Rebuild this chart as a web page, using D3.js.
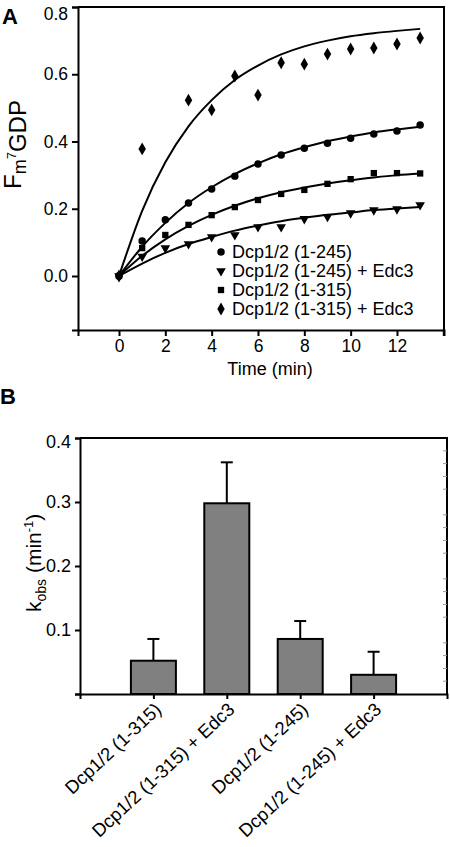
<!DOCTYPE html>
<html><head><meta charset="utf-8">
<script src="https://cdn.jsdelivr.net/npm/d3@7"></script>
<style>body{margin:0;background:#fff} text{font-family:"Liberation Sans",Arial,sans-serif;fill:#000}</style>
</head><body><svg id="c" width="450" height="847"></svg>
<script>
// ---- Panel A data ----
const times = [0,1,2,3,4,5,6,7,8,9,10,11,12,13];
const dcp245 = [0, 0.104, 0.167, 0.217, 0.259, 0.297, 0.333, 0.360, 0.380, 0.395, 0.410, 0.422, 0.431, 0.449];
const dcp245Edc3 = [0, 0.058, 0.083, 0.095, 0.116, 0.122, 0.146, 0.146, 0.170, 0.176, 0.187, 0.196, 0.199, 0.211];
const dcp315 = [0, 0.083, 0.122, 0.152, 0.181, 0.205, 0.226, 0.244, 0.256, 0.274, 0.288, 0.306, 0.306, 0.305];
const dcp315Edc3 = [0, 0.378, null, 0.523, 0.494, 0.595, 0.538, 0.634, 0.630, 0.660, 0.675, 0.678, 0.690, 0.708];
// fitted curves
const fit245 = [0, 0.087, 0.158, 0.217, 0.264, 0.303, 0.335, 0.362, 0.383, 0.401, 0.415, 0.427, 0.436, 0.444];
const fit245Edc3 = [0, 0.037, 0.069, 0.095, 0.116, 0.135, 0.150, 0.163, 0.173, 0.182, 0.189, 0.196, 0.201, 0.205];
const fit315 = [0, 0.060, 0.109, 0.149, 0.182, 0.209, 0.231, 0.249, 0.263, 0.275, 0.285, 0.293, 0.300, 0.305];
const fit315Edc3 = [0, 0.194, 0.338, 0.445, 0.523, 0.583, 0.626, 0.659, 0.683, 0.700, 0.713, 0.722, 0.729, 0.735];
const legendLabels = ["Dcp1/2 (1-245)", "Dcp1/2 (1-245) + Edc3", "Dcp1/2 (1-315)", "Dcp1/2 (1-315) + Edc3"];
const xTicksA = [0,2,4,6,8,10,12,14];
const yTicksA = [0,0.2,0.4,0.6,0.8];

// ---- Panel B data ----
const categories = ["Dcp1/2 (1-315)", "Dcp1/2 (1-315) + Edc3", "Dcp1/2 (1-245)", "Dcp1/2 (1-245) + Edc3"];
const kobs = [0.052, 0.298, 0.086, 0.030];
const kerr = [0.034, 0.064, 0.028, 0.036];
const yTicksB = [0.1,0.2,0.3,0.4];
const minorTicksB = [0.02,0.04,0.06,0.08,0.12,0.14,0.16,0.18,0.22,0.24,0.26,0.28,0.32,0.34,0.36,0.38];

const svg = d3.select("#c");

// ================= Panel A =================
const A = {l:78, r:444, t:7, b:330};
const x = d3.scaleLinear().domain([-1.77, 14.03]).range([A.l, A.r]);
const y = d3.scaleLinear().domain([-0.1606, 0.8]).range([A.b, A.t]);
const gA = svg.append("g");

gA.append("path").attr("d", `M${A.l},${A.t}H${A.r}V${A.b}`).attr("fill","none").attr("stroke","#000").attr("stroke-width",2);

const xAxA = gA.append("g").attr("transform",`translate(0,${A.b})`)
  .call(d3.axisBottom(x).tickValues(xTicksA).tickSize(6).tickPadding(4).tickFormat(d => d===14 ? "" : d));
const yAxA = gA.append("g").attr("transform",`translate(${A.l},0)`)
  .call(d3.axisLeft(y).tickValues(yTicksA).tickSize(6).tickPadding(4).tickFormat(d3.format(".1f")));
[xAxA, yAxA].forEach(g => {
  g.select(".domain").attr("stroke-width",2);
  g.selectAll(".tick line").attr("stroke-width",2);
  g.selectAll(".tick text").attr("font-size",17.5).attr("font-family","Liberation Sans, Arial, sans-serif");
});
yAxA.selectAll(".tick text").filter(d => d===0.8).attr("dy","0.72em");

const line = d3.line().x((d,i)=>x(times[i])).y(d=>y(d)).curve(d3.curveMonotoneX);
[fit245, fit245Edc3, fit315, fit315Edc3].forEach(f => {
  gA.append("path").attr("d", line(f)).attr("fill","none").attr("stroke","#000").attr("stroke-width",2);
});

const symCircle = d3.symbol().type(d3.symbolCircle).size(44)();
const symTri = d3.symbol().type(d3.symbolTriangle).size(40)();
const symSquare = d3.symbol().type(d3.symbolSquare).size(40)();
const symDiamond = d3.symbol().type(d3.symbolDiamond).size(48)();
const series = [
  {vals: dcp245, sym: symCircle, rot: 0},
  {vals: dcp245Edc3, sym: symTri, rot: 180},
  {vals: dcp315, sym: symSquare, rot: 0},
  {vals: dcp315Edc3, sym: symDiamond, rot: 0}
];
series.forEach(s => {
  gA.append("g").selectAll("path").data(s.vals.map((v,i)=>({t:times[i], v})).filter(d=>d.v!==null))
    .join("path").attr("d", s.sym)
    .attr("transform", d=>`translate(${x(d.t)},${y(d.v)}) rotate(${s.rot})`)
    .attr("fill","#000");
});

// legend
const legY = [252, 271, 290, 309];
legendLabels.forEach((lab,i) => {
  gA.append("path").attr("d", series[i].sym).attr("fill","#000")
    .attr("transform", `translate(221,${legY[i]}) rotate(${series[i].rot})`);
  gA.append("text").attr("x",232).attr("y",legY[i]+6).attr("font-size",18).text(lab);
});

// axis titles
gA.append("text").attr("x",270).attr("y",375).attr("text-anchor","middle").attr("font-size",18).text("Time (min)");
const yl = gA.append("text").attr("transform","translate(21,189) rotate(-90)").attr("font-size",24);
yl.append("tspan").text("F");
yl.append("tspan").attr("font-size",18).attr("dy",5).text("m");
yl.append("tspan").attr("font-size",13).attr("dy",-10).text("7");
yl.append("tspan").attr("font-size",24).attr("dy",10).text("GDP");
svg.append("text").attr("x",2).attr("y",24).attr("font-size",22).attr("font-weight","bold").text("A");

// ================= Panel B =================
const B = {l:80, r:447, t:438, b:694};
const xb = d3.scalePoint().domain(categories).range([B.l, B.r]).padding(1);
const yb = d3.scaleLinear().domain([0,0.4]).range([B.b, B.t]);
const gB = svg.append("g");
const bw = 45;

gB.append("path").attr("d", `M${B.l},${B.t}H${B.r}V${B.b}`).attr("fill","none").attr("stroke","#000").attr("stroke-width",2);
gB.append("g").selectAll("line").data(minorTicksB).join("line")
  .attr("x1",B.r-4).attr("x2",B.r).attr("y1",d=>yb(d)).attr("y2",d=>yb(d))
  .attr("stroke","#999").attr("stroke-width",1);

// error bars
categories.forEach((c,i) => {
  const cx = xb(c);
  const top = yb(kobs[i]+kerr[i]);
  gB.append("line").attr("x1",cx).attr("x2",cx).attr("y1",yb(kobs[i])).attr("y2",top).attr("stroke","#000").attr("stroke-width",2);
  gB.append("line").attr("x1",cx-6).attr("x2",cx+6).attr("y1",top).attr("y2",top).attr("stroke","#000").attr("stroke-width",2);
});
// bars
gB.append("g").selectAll("rect").data(categories).join("rect")
  .attr("x", c=>xb(c)-bw/2).attr("width",bw)
  .attr("y",(c,i)=>yb(kobs[i])).attr("height",(c,i)=>yb(0)-yb(kobs[i]))
  .attr("fill","#808080").attr("stroke","#000").attr("stroke-width",2);

const xAxB = gB.append("g").attr("transform",`translate(0,${B.b})`)
  .call(d3.axisBottom(xb).tickSize(5).tickFormat(""));
const yAxB = gB.append("g").attr("transform",`translate(${B.l},0)`)
  .call(d3.axisLeft(yb).tickValues([0].concat(yTicksB)).tickSize(5).tickPadding(4).tickFormat(d=> d===0 ? "" : d3.format(".1f")(d)));
[xAxB, yAxB].forEach(g => {
  g.select(".domain").attr("stroke-width",2);
  g.selectAll(".tick line").attr("stroke-width",2);
  g.selectAll(".tick text").attr("font-size",18).attr("font-family","Liberation Sans, Arial, sans-serif");
});
yAxB.selectAll(".tick text").filter(d => d===0.4).attr("dy","0.5em");
// rotated category labels
categories.forEach(c => {
  gB.append("text").attr("transform",`translate(${xb(c)+9},${B.b+17}) rotate(-43)`)
    .attr("text-anchor","end").attr("font-size",18.5).text(c);
});
const ylb = gB.append("text").attr("transform",`translate(41,612) rotate(-90)`).attr("font-size",21);
ylb.append("tspan").text("k");
ylb.append("tspan").attr("font-size",14).attr("dy",5).text("obs");
ylb.append("tspan").attr("dy",-5).text(" (min");
ylb.append("tspan").attr("font-size",13).attr("dy",-8).text("-1");
ylb.append("tspan").attr("dy",8).text(")");
svg.append("text").attr("x",0).attr("y",404).attr("font-size",22).attr("font-weight","bold").text("B");
</script></body></html>
